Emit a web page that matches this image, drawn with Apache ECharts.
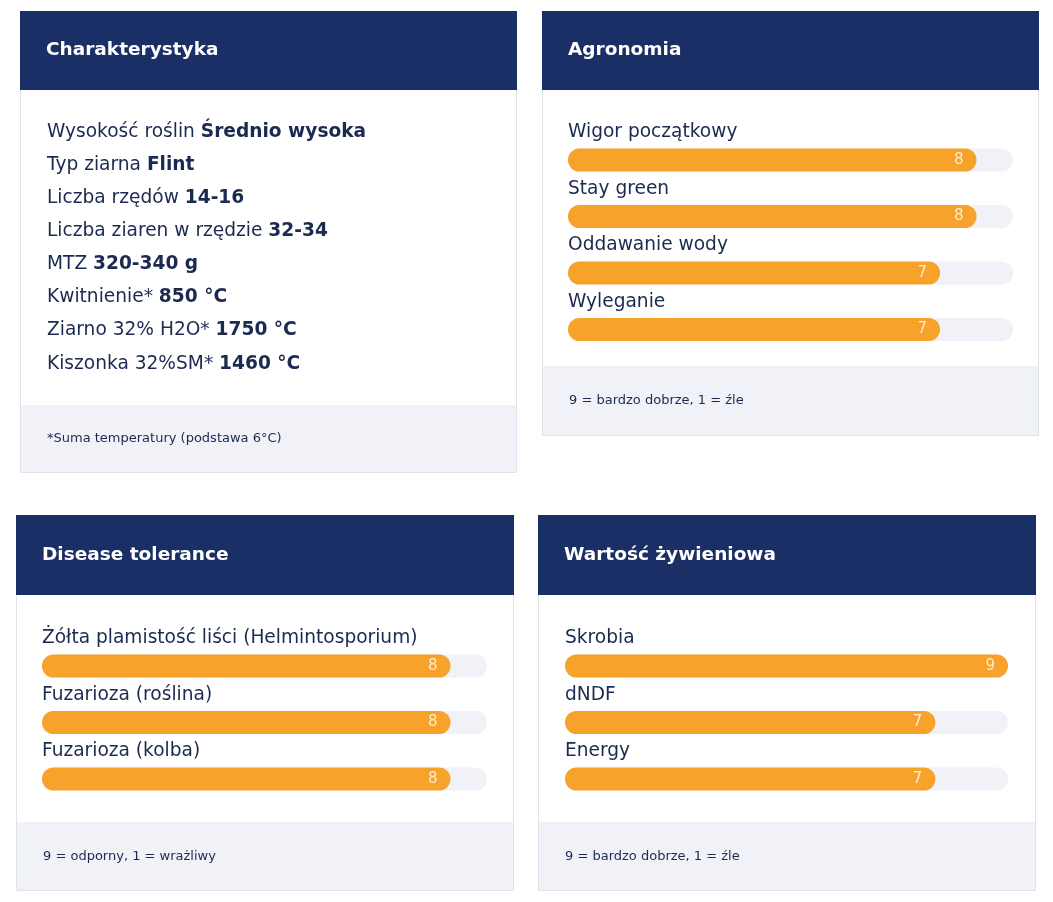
<!DOCTYPE html>
<html>
<head>
<meta charset="utf-8">
<script src="https://cdn.jsdelivr.net/npm/echarts@6/dist/echarts.min.js"></script>
<style>
html,body{margin:0;padding:0;background:#ffffff;}
#chart{width:1053px;height:902px;}
</style>
</head>
<body>
<div id="chart"></div>
<script>
// ---- Data ----
const titleCharakterystyka = 'Charakterystyka';
const charLabels = ['Wysokość roślin', 'Typ ziarna', 'Liczba rzędów', 'Liczba ziaren w rzędzie', 'MTZ', 'Kwitnienie*', 'Ziarno 32% H2O*', 'Kiszonka 32%SM*'];
const charValues = ['Średnio wysoka', 'Flint', '14-16', '32-34', '320-340 g', '850 °C', '1750 °C', '1460 °C'];
const charNote = '*Suma temperatury (podstawa 6°C)';

const titleAgronomia = 'Agronomia';
const agroCategories = ['Wigor początkowy', 'Stay green', 'Oddawanie wody', 'Wyleganie'];
const agroValues = [8, 8, 7, 7];
const agroNote = '9 = bardzo dobrze, 1 = źle';

const titleDisease = 'Disease tolerance';
const diseaseCategories = ['Żółta plamistość liści (Helmintosporium)', 'Fuzarioza (roślina)', 'Fuzarioza (kolba)'];
const diseaseValues = [8, 8, 8];
const diseaseNote = '9 = odporny, 1 = wrażliwy';

const titleNutrition = 'Wartość żywieniowa';
const nutritionCategories = ['Skrobia', 'dNDF', 'Energy'];
const nutritionValues = [9, 7, 7];
const nutritionNote = '9 = bardzo dobrze, 1 = źle';

// ---- Styles ----
const FONT = '"DejaVu Sans", sans-serif';
const NAVY = '#1a2f66';
const TEXT = '#1b2a50';
const ORANGE = '#f6a22b';
const TRACK = '#f0f2f7';
const FOOT = '#f0f2f8';
const BORDER = '#dfe2e8';

const chart = echarts.init(document.getElementById('chart'), null, {renderer: 'canvas'});

// card geometry
const cards = [
  {x: 20, y: 11, w: 497, h: 462, hh: 79, ft: 405, title: titleCharakterystyka, note: charNote},
  {x: 542, y: 11, w: 497, h: 425, hh: 79, ft: 366, title: titleAgronomia, note: agroNote},
  {x: 16, y: 515, w: 498, h: 376, hh: 80, ft: 822, title: titleDisease, note: diseaseNote},
  {x: 538, y: 515, w: 498, h: 376, hh: 80, ft: 822, title: titleNutrition, note: nutritionNote}
];

const graphics = [];
cards.forEach(c => {
  graphics.push({type: 'rect', shape: {x: c.x + 0.5, y: c.y + 0.5, width: c.w - 1, height: c.h - 1},
    style: {fill: '#ffffff', stroke: BORDER, lineWidth: 1}, z: -10});
  graphics.push({type: 'rect', shape: {x: c.x + 1, y: c.ft, width: c.w - 2, height: c.y + c.h - c.ft - 1},
    style: {fill: FOOT}, z: -9});
  graphics.push({type: 'rect', shape: {x: c.x, y: c.y, width: c.w, height: c.hh},
    style: {fill: NAVY}, z: -8});
  graphics.push({type: 'text', x: c.x + 26, y: c.y + c.hh / 2, z: -7,
    style: {text: c.title, fill: '#ffffff', font: 'bold 18.5px ' + FONT, textVerticalAlign: 'middle'}});
  graphics.push({type: 'text', x: c.x + 27, y: c.ft + (c.y + c.h - c.ft) / 2, z: -7,
    style: {text: c.note, fill: TEXT, font: '13px ' + FONT, textVerticalAlign: 'middle'}});
});

charLabels.forEach((lab, i) => {
  graphics.push({type: 'text', x: 47, y: 132 + i * 33.1, z: -7,
    style: {
      text: '{r|' + lab + ' }{b|' + charValues[i] + '}',
      textVerticalAlign: 'middle',
      rich: {
        r: {fontFamily: FONT, fontSize: 18.6, fill: TEXT},
        b: {fontFamily: FONT, fontSize: 18.6, fontWeight: 'bold', fill: TEXT}
      }
    }});
});

const AX_MIN = -3.2, AX_MAX = 9;
const grids = [
  {left: 568, top: 131.75, width: 445, height: 226},
  {left: 42, top: 637.75, width: 445, height: 169.5},
  {left: 565, top: 637.75, width: 443, height: 169.5}
];
const cats = [agroCategories, diseaseCategories, nutritionCategories];
const vals = [agroValues, diseaseValues, nutritionValues];

const xAxes = grids.map((g, i) => ({gridIndex: i, type: 'value', min: AX_MIN, max: AX_MAX, startValue: AX_MIN, show: false}));
const yAxes = grids.map((g, i) => ({
  gridIndex: i, type: 'category', data: cats[i], inverse: true, z: 10,
  axisLine: {show: false}, axisTick: {show: false}, splitLine: {show: false},
  axisLabel: {inside: true, align: 'left', margin: 0, color: TEXT, fontFamily: FONT, fontSize: 18.6,
    verticalAlign: 'bottom', lineHeight: 55}
}));
const series = grids.map((g, i) => ({
  type: 'bar', xAxisIndex: i, yAxisIndex: i, data: vals[i], barWidth: 23,
  clip: false, silent: true,
  itemStyle: {color: ORANGE, borderRadius: 12},
  showBackground: true,
  backgroundStyle: {color: TRACK, borderRadius: 12},
  label: {show: true, position: 'insideRight', distance: 13, color: 'rgba(255,255,255,0.78)',
    fontFamily: FONT, fontSize: 15},
  z: 10
}));

chart.setOption({
  animation: false,
  graphic: {elements: graphics},
  grid: grids.map(g => Object.assign({containLabel: false}, g)),
  xAxis: xAxes,
  yAxis: yAxes,
  series: series
});
</script>
</body>
</html>
